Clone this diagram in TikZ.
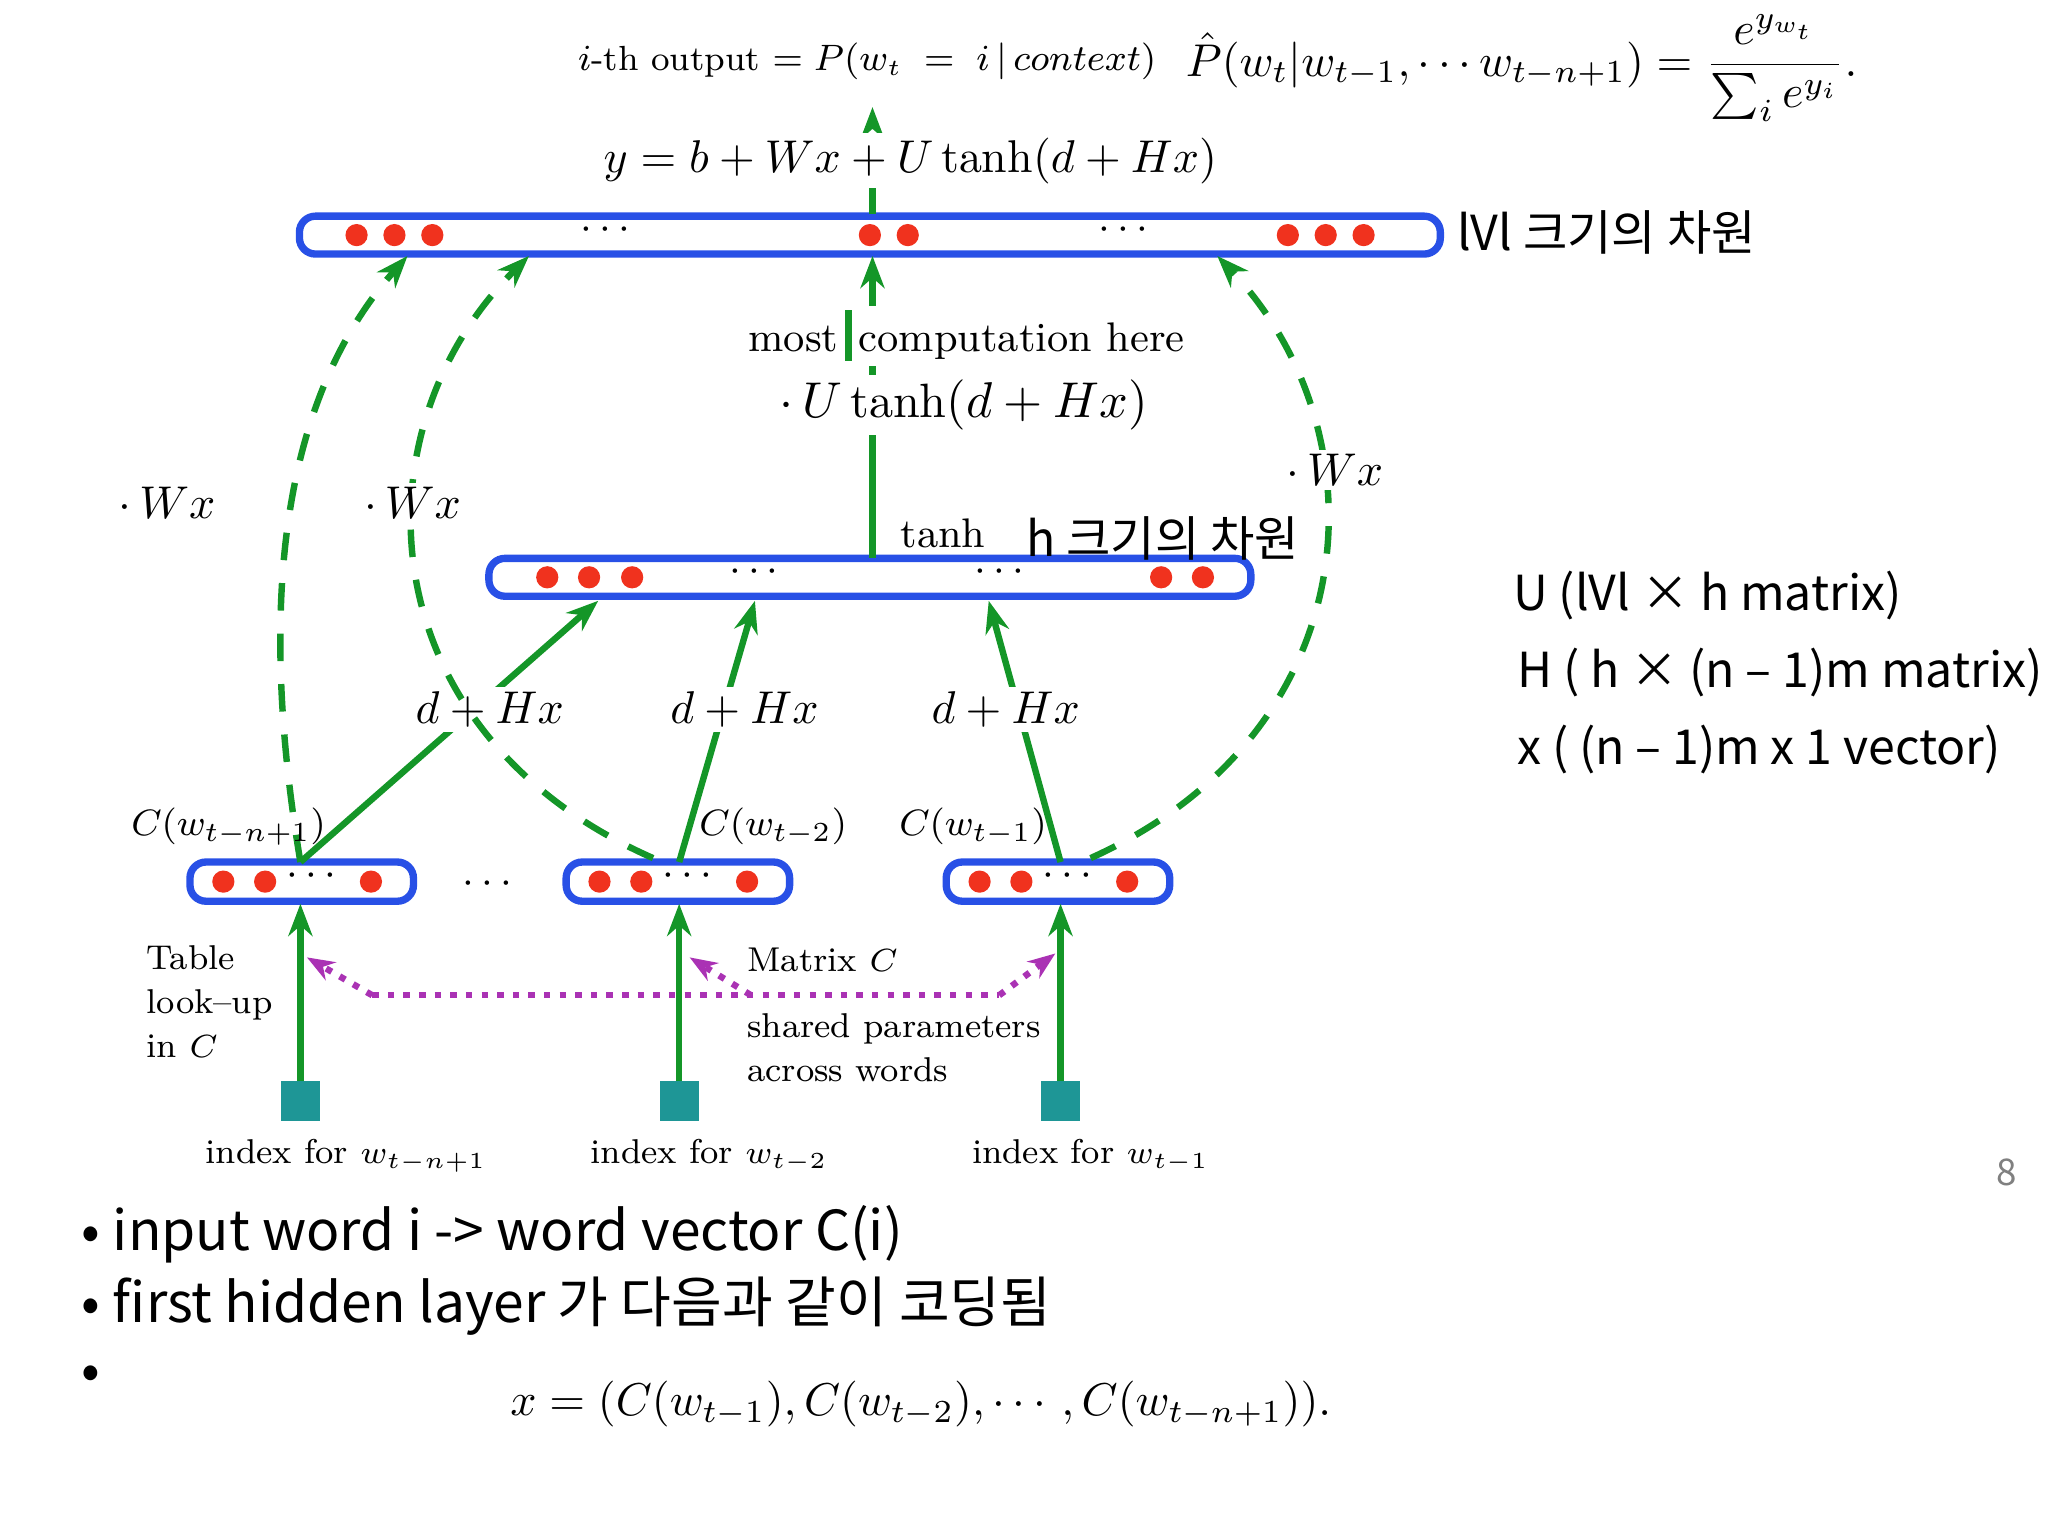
\documentclass[tikz,border=0pt]{standalone}
\usepackage{fontspec}
\usepackage{amsmath}
\newfontfamily\kr{Noto Sans CJK KR}
\usetikzlibrary{arrows.meta}
\definecolor{gr}{RGB}{20,150,40}
\definecolor{bl}{RGB}{40,80,230}
\definecolor{rd}{RGB}{240,50,30}
\definecolor{tl}{RGB}{30,150,150}
\definecolor{pu}{RGB}{170,50,180}
\tikzset{
 bar/.style={draw=bl,line width=1.6pt,rounded corners=3.5pt},
 dot/.style={circle,fill=rd,inner sep=0pt,minimum size=0.17cm},
 sq/.style={fill=tl,inner sep=0pt,minimum size=0.3cm},
 ga/.style={gr,line width=1.4pt,-{Stealth[length=7pt]}},
 gd/.style={gr,line width=1.4pt,dash pattern=on 6pt off 5pt,-{Stealth[length=7pt]}},
 pd/.style={pu,line width=1.4pt,dotted,-{Stealth[length=6pt]}},
 lbl/.style={inner sep=1pt,font=\fontsize{9}{11}\selectfont},
 ml/.style={inner sep=1pt,font=\fontsize{10}{12}\selectfont},
 sm/.style={inner sep=1pt,font=\fontsize{7.5}{9.5}\selectfont,align=left},
 kt/.style={inner sep=0pt,anchor=west,font=\kr\fontsize{10.5}{13}\selectfont},
}
\begin{document}
\begin{tikzpicture}[x=0.01cm,y=-0.01cm]
\useasboundingbox (0,0) rectangle (1568,1176);
% bars
\node[bar,minimum width=8.73cm,minimum height=0.29cm] (top) at (666,180) {};
\node[bar,minimum width=5.83cm,minimum height=0.29cm] (hid) at (666,442) {};
\foreach \x in {273,302,331,666,695,986,1015,1044} \node[dot] at (\x,180) {};
\foreach \x in {466,863} \node[lbl] at (\x,176) {$\cdots$};
\foreach \x in {419,451,484,889,921} \node[dot] at (\x,442) {};
\foreach \x in {580,768} \node[lbl] at (\x,438) {$\cdots$};
% bottom boxes
\foreach \n/\c in {a/231,b/519,c/810}{
 \node[bar,minimum width=1.71cm,minimum height=0.30cm] (\n) at (\c,675) {};
 \node[dot] at (\c-60,675) {}; \node[dot] at (\c-28,675) {};
 \node[lbl] at (\c+10,671) {$\cdots$}; \node[dot] at (\c+53,675) {};
}
\node[lbl] at (376,677) {$\cdots$};
% squares
\node[sq] (sa) at (230,843) {};
\node[sq] (sb) at (520,843) {};
\node[sq] (sc) at (812,843) {};
\draw[ga] (sa.north) -- (230,692);
\draw[ga] (sb.north) -- (520,692);
\draw[ga] (sc.north) -- (812,692);
% d+Hx arrows
\draw[ga] (230,660) -- (458,460);
\draw[ga] (520,660) -- (578,460);
\draw[ga] (812,660) -- (757,460);
\node[ml,fill=white] at (375,543) {$d+Hx$};
\node[ml,fill=white] at (570,543) {$d+Hx$};
\node[ml,fill=white] at (770,543) {$d+Hx$};
% vertical
\draw[ga] (668,427) -- (668,196);
\draw[gd] (668,164) -- (668,82);
\node[lbl,fill=white] at (740,257) {most\,\textcolor{gr}{\rule[-2pt]{1.4pt}{11pt}}\,computation here};
\node[ml,fill=white,font=\fontsize{10.5}{13}\selectfont] at (738,310) {$\cdot\,U\tanh(d+Hx)$};
\node[lbl] at (722,408) {tanh};
% dashed curves
\draw[gd] (230,660) .. controls (195,450) and (220,300) .. (312,196);
\draw[gd] (500,657) .. controls (280,560) and (270,330) .. (405,196);
\draw[gd] (835,657) .. controls (1050,560) and (1060,330) .. (932,196);
\node[ml,fill=white] at (128,385) {$\cdot\,Wx$};
\node[ml,fill=white] at (316,385) {$\cdot\,Wx$};
\node[ml,fill=white] at (1022,360) {$\cdot\,Wx$};
% purple
\draw[pu,line width=1.4pt,dotted] (285,762) -- (765,762);
\draw[pd] (285,762) -- (235,733);
\draw[pd] (575,762) -- (528,733);
\draw[pd] (765,762) -- (808,730);
% texts
\node[lbl,font=\fontsize{8.5}{10}\selectfont] at (175,633) {$C(w_{t-n+1})$};
\node[lbl,font=\fontsize{8.5}{10}\selectfont] at (592,633) {$C(w_{t-2})$};
\node[lbl,font=\fontsize{8.5}{10}\selectfont] at (745,633) {$C(w_{t-1})$};
\node[sm,anchor=north west] at (108,720) {Table\\ look--up\\ in $C$};
\node[sm,anchor=west] at (568,735) {Matrix $C$};
\node[sm,anchor=north west] at (568,772) {shared parameters\\across words};
\node[sm] at (265,885) {index for $w_{t-n+1}$};
\node[sm] at (543,885) {index for $w_{t-2}$};
\node[sm] at (835,885) {index for $w_{t-1}$};
% formulas
\node[lbl,font=\fontsize{7.6}{10}\selectfont] at (664,47) {$i$-th output $=P(w_t\;=\;i\,|\,context)$};
\node[lbl,font=\fontsize{10}{12}\selectfont] at (1165,52) {$\hat P(w_t|w_{t-1},\cdots w_{t-n+1})=\dfrac{e^{y_{w_t}}}{\sum_i e^{y_i}}.$};
\node[ml,fill=white] at (697,123) {$y=b+Wx+U\tanh(d+Hx)$};
% korean/right
\node[kt] at (1115,178) {lVl 크기의 차원};
\node[kt] at (785,412) {h 크기의 차원};
\node[kt] at (1158,456) {U (lVl × h matrix)};
\node[kt] at (1161,515) {H ( h × (n – 1)m matrix)};
\node[kt] at (1161,574) {x ( (n – 1)m x 1 vector)};
\node[kt,text=gray,font=\kr\fontsize{8}{10}\selectfont] at (1528,898) {8};
\node[kt,font=\kr\fontsize{12}{15}\selectfont] at (62,945) {• input word i -> word vector C(i)};
\node[kt,font=\kr\fontsize{12}{15}\selectfont] at (62,1000) {• first hidden layer 가 다음과 같이 코딩됨};
\node[kt,font=\kr\fontsize{12}{15}\selectfont] at (62,1055) {•};
\node[ml] at (705,1075) {$x=(C(w_{t-1}),C(w_{t-2}),\cdots,C(w_{t-n+1})).$};
\end{tikzpicture}
\end{document}
